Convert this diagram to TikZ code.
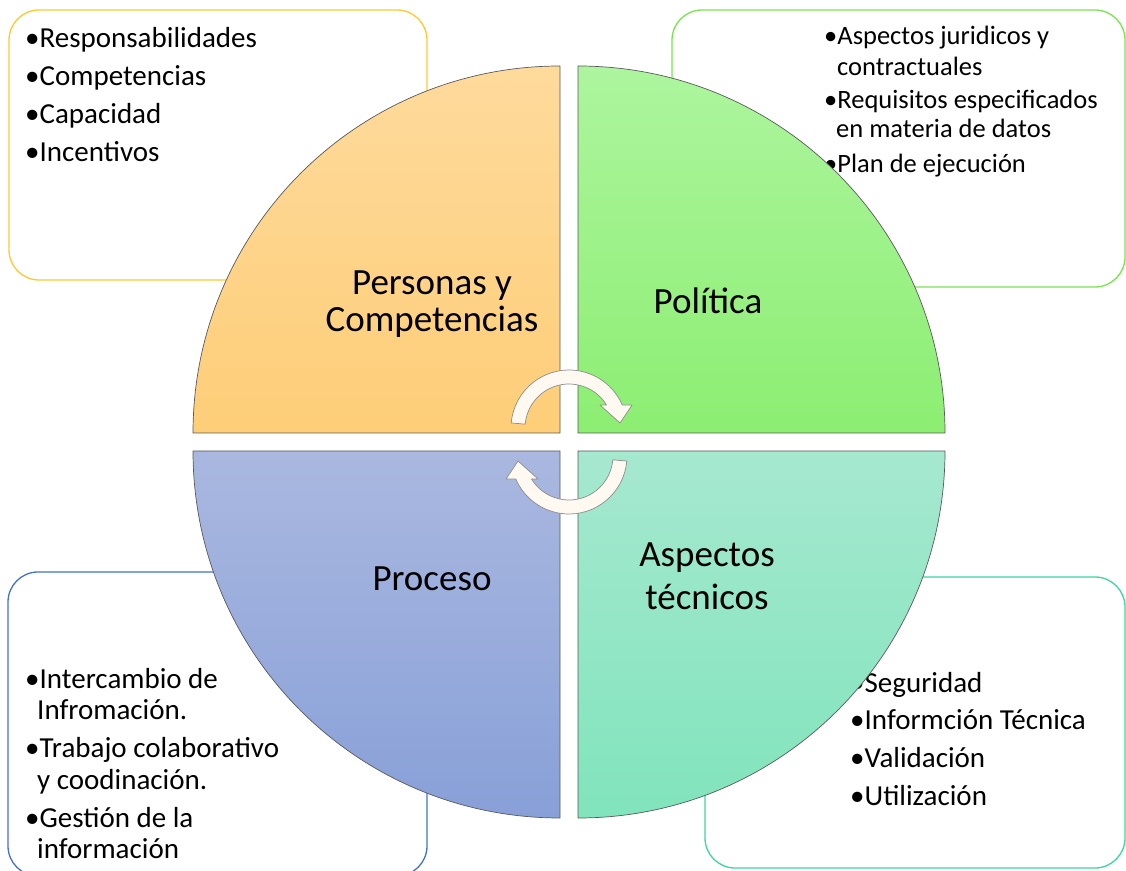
\documentclass[tikz,border=0pt]{standalone}
\usepackage{fontspec}
\setmainfont{Carlito}
\definecolor{tlA}{RGB}{254,218,156}
\definecolor{tlB}{RGB}{254,206,120}
\definecolor{trA}{RGB}{173,245,158}
\definecolor{trB}{RGB}{140,238,114}
\definecolor{blA}{RGB}{170,184,224}
\definecolor{blB}{RGB}{136,160,216}
\definecolor{brA}{RGB}{166,232,208}
\definecolor{brB}{RGB}{128,228,188}
\definecolor{bxGold}{RGB}{255,200,50}
\definecolor{bxGreen}{RGB}{120,228,80}
\definecolor{bxBlue}{RGB}{68,114,196}
\definecolor{bxTeal}{RGB}{62,214,160}
\definecolor{arrFill}{RGB}{255,249,242}
\tikzset{
  infobox/.style={fill=white, line width=1.3pt, rounded corners=30pt},
  quad/.style={draw=black!65, line width=0.7pt},
  itemtxt/.style={anchor=base west, inner sep=0pt, font=\fontsize{29}{34}\selectfont},
  itemsm/.style={anchor=base west, inner sep=0pt, font=\fontsize{26.5}{31}\selectfont},
  lbl/.style={anchor=base, inner sep=0pt, font=\fontsize{37}{40}\selectfont},
  cycarrow/.style={fill=arrFill, draw=black!45, line width=0.7pt, line join=round}
}
\begin{document}
\begin{tikzpicture}[x=1pt,y=1pt]
\useasboundingbox (0,0) rectangle (1126,870);
\clip (0,0) rectangle (1126,870);
% info boxes
\draw[infobox, draw=bxGold] (9,590) rectangle (427,860);
\draw[infobox, draw=bxGreen] (672,583) rectangle (1125,860);
\draw[infobox, draw=bxBlue] (8,-6) rectangle (427,298);
\draw[infobox, draw=bxTeal] (705,2) rectangle (1125,293);
% top-left text
\node[itemtxt] (tl1) at (25,822) {•Responsabilidades};
\node[itemtxt] (tl2) at (25,784) {•Competencias};
\node[itemtxt] (tl3) at (25,746) {•Capacidad};
\node[itemtxt] (tl4) at (25,708) {•Incentivos};
% top-right text
\node[itemsm] (tr1) at (824,825) {•Aspectos juridicos y};
\node[itemsm] (tr2) at (837,794) {contractuales};
\node[itemsm] (tr3) at (824,761) {•Requisitos especificados};
\node[itemsm] (tr4) at (836,732) {en materia de datos};
\node[itemsm] (tr5) at (824,697) {•Plan de ejecución};
% bottom-left text
\node[itemtxt] (bl1) at (25,182) {•Intercambio de};
\node[itemtxt] (bl2) at (37,151) {Infromación.};
\node[itemtxt] (bl3) at (25,113) {•Trabajo colaborativo};
\node[itemtxt] (bl4) at (37,81) {y coodinación.};
\node[itemtxt] (bl5) at (25,43) {•Gestión de la};
\node[itemtxt] (bl6) at (37,12) {información};
% bottom-right text
\node[itemtxt] (br1) at (850,178) {•Seguridad};
\node[itemtxt] (br2) at (850,141) {•Informción Técnica};
\node[itemtxt] (br3) at (850,103) {•Validación};
\node[itemtxt] (br4) at (850,65) {•Utilización};
% quadrants
\shade[quad, top color=tlA, bottom color=tlB]
  (560,437) -- (193,437) arc[start angle=180, end angle=90, radius=367pt] -- cycle;
\shade[quad, top color=trA, bottom color=trB]
  (578,437) -- (578,804) arc[start angle=90, end angle=0, radius=367pt] -- cycle;
\shade[quad, top color=blA, bottom color=blB]
  (560,419) -- (193,419) arc[start angle=180, end angle=270, radius=367pt] -- cycle;
\shade[quad, top color=brA, bottom color=brB]
  (578,419) -- (945,419) arc[start angle=0, end angle=-90, radius=367pt] -- cycle;
% labels
\node[lbl] (pc1) at (432,575) {Personas y};
\node[lbl] (pc2) at (432,538) {Competencias};
\node[lbl] (pol) at (708,556) {Política};
\node[lbl] (pro) at (432,279) {Proceso};
\node[lbl] (at1) at (707,303) {Aspectos};
\node[lbl] (at2) at (707,260) {técnicos};
% cycle arrows
\begin{scope}[shift={(569,442)}]
  \path[cycarrow] (175:58pt) arc[start angle=175, end angle=23.4, radius=58pt]
    -- (63,23) -- (51,5) -- (31,23) -- (31.5:44pt)
    arc[start angle=31.5, end angle=175, radius=44pt] -- cycle;
\end{scope}
\begin{scope}[shift={(569,414)}, rotate=180]
  \path[cycarrow] (175:58pt) arc[start angle=175, end angle=23.4, radius=58pt]
    -- (63,23) -- (51,5) -- (31,23) -- (31.5:44pt)
    arc[start angle=31.5, end angle=175, radius=44pt] -- cycle;
\end{scope}
\end{tikzpicture}
\end{document}
